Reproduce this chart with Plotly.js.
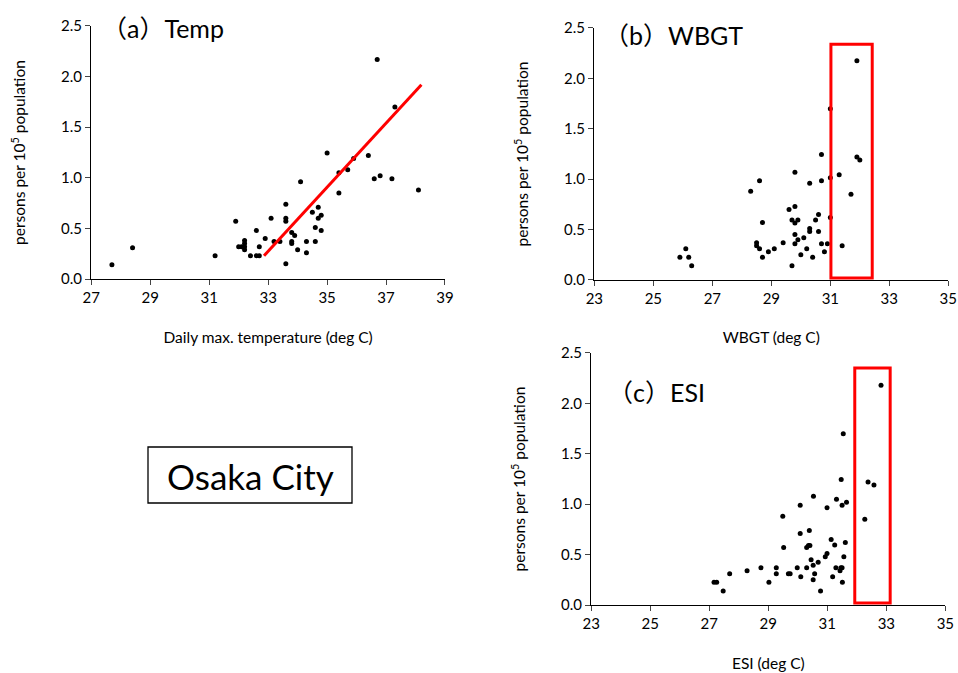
<!DOCTYPE html>
<html>
<head>
<meta charset="utf-8">
<script src="https://cdn.plot.ly/plotly-3.0.1.min.js"></script>
<style>html,body{margin:0;padding:0;background:#fff;}#chart{width:958px;height:673px;}</style>
</head>
<body>
<div id="chart"></div>
<script>
// (a) Daily max temperature vs persons per 10^5 population
const tempX = [27.7, 28.4, 31.2, 31.9, 32.0, 32.1, 32.2, 32.2, 32.2, 32.2, 32.4, 32.6, 32.6, 32.7, 32.7, 32.9, 33.1, 33.2, 33.4, 33.6, 33.6, 33.6, 33.6, 33.8, 33.9, 33.8, 33.8, 34.0, 34.1, 34.3, 34.3, 34.5, 34.6, 34.6, 34.7, 34.7, 34.8, 34.8, 35.0, 35.4, 35.4, 35.7, 35.9, 36.4, 36.6, 36.8, 37.2, 38.1, 36.7, 37.3];
const tempY = [0.14, 0.31, 0.23, 0.57, 0.32, 0.32, 0.38, 0.35, 0.32, 0.29, 0.23, 0.48, 0.23, 0.23, 0.32, 0.40, 0.60, 0.37, 0.37, 0.74, 0.60, 0.57, 0.15, 0.46, 0.43, 0.37, 0.35, 0.29, 0.96, 0.37, 0.26, 0.66, 0.51, 0.37, 0.71, 0.60, 0.63, 0.48, 1.245, 1.05, 0.85, 1.08, 1.19, 1.22, 0.99, 1.02, 0.99, 0.88, 2.17, 1.70];
const tempFitX = [32.86, 38.2];
const tempFitY = [0.23, 1.92];

// (b) WBGT
const wbgtX = [25.9, 26.1, 26.2, 26.3, 28.3, 28.5, 28.5, 28.6, 28.6, 28.7, 28.7, 28.9, 29.1, 29.4, 29.6, 29.7, 29.8, 29.9, 29.7, 29.8, 29.8, 29.8, 29.8, 29.9, 30.0, 30.1, 30.2, 30.3, 30.3, 30.3, 30.4, 30.5, 30.6, 30.6, 30.7, 30.7, 30.7, 30.8, 30.9, 31.0, 31.0, 31.3, 31.4, 31.7, 31.9, 32.0, 31.9, 31.0];
const wbgtY = [0.225, 0.31, 0.225, 0.14, 0.88, 0.37, 0.34, 0.985, 0.31, 0.57, 0.225, 0.28, 0.31, 0.37, 0.70, 0.595, 0.565, 0.595, 0.14, 1.07, 0.73, 0.45, 0.36, 0.40, 0.25, 0.42, 0.31, 0.96, 0.51, 0.48, 0.225, 0.595, 0.65, 0.48, 1.245, 0.985, 0.36, 0.28, 0.36, 1.015, 0.62, 1.045, 0.34, 0.85, 1.22, 1.19, 2.175, 1.70];
const wbgtBoxX = [31.02, 32.42];
const wbgtBoxY = [0.02, 2.34];

// (c) ESI
const esiX = [27.16, 27.25, 27.47, 27.69, 28.28, 28.75, 29.02, 29.27, 29.27, 29.49, 29.52, 29.68, 29.74, 29.98, 30.08, 30.08, 30.1, 30.30, 30.30, 30.36, 30.41, 30.39, 30.45, 30.52, 30.52, 30.53, 30.57, 30.69, 30.77, 30.93, 30.99, 30.99, 31.13, 31.18, 31.25, 31.29, 31.31, 31.43, 31.46, 31.5, 31.47, 31.5, 31.51, 31.54, 31.56, 31.61, 31.65, 32.27, 32.38, 32.58, 32.82];
const esiY = [0.225, 0.225, 0.14, 0.31, 0.34, 0.37, 0.225, 0.37, 0.31, 0.88, 0.57, 0.31, 0.31, 0.37, 0.99, 0.71, 0.28, 0.37, 0.57, 0.59, 0.59, 0.74, 0.45, 0.395, 0.25, 1.08, 0.31, 0.425, 0.14, 0.48, 0.51, 0.965, 0.65, 0.28, 0.595, 0.37, 1.05, 0.34, 0.37, 0.37, 1.245, 0.99, 0.225, 1.70, 0.48, 0.62, 1.02, 0.85, 1.22, 1.19, 2.18];
const esiBoxX = [31.93, 33.13];
const esiBoxY = [0.02, 2.35];

const yTitle = 'persons per 10<sup>5</sup> population';
const FONT = 'Lato, "Noto Sans", "Noto Sans CJK JP", sans-serif';

const marker = {color: '#000', size: 5};
const traces = [
  {x: tempX, y: tempY, type: 'scatter', mode: 'markers', marker: marker, xaxis: 'x', yaxis: 'y'},
  {x: tempFitX, y: tempFitY, type: 'scatter', mode: 'lines', line: {color: '#ff0000', width: 3}, xaxis: 'x', yaxis: 'y'},
  {x: wbgtX, y: wbgtY, type: 'scatter', mode: 'markers', marker: marker, xaxis: 'x2', yaxis: 'y2'},
  {x: esiX, y: esiY, type: 'scatter', mode: 'markers', marker: marker, xaxis: 'x3', yaxis: 'y3'}
];

function xax(range, domain, title, anchor) {
  return {
    domain: domain, range: range, dtick: 2, tick0: range[0], anchor: anchor,
    showgrid: false, zeroline: false, showline: true, linecolor: '#000', linewidth: 1.3,
    ticks: 'outside', ticklen: 5, tickcolor: '#444', tickwidth: 1,
    tickfont: {family: FONT, size: 15, color: '#000'},
    title: {text: title, font: {family: FONT, size: 15.5, color: '#000'}, standoff: 26},
    fixedrange: true
  };
}
function yax(domain, anchor) {
  return {
    domain: domain, range: [0, 2.5], dtick: 0.5, tick0: 0, tickformat: '.1f', anchor: anchor,
    showgrid: false, zeroline: false, showline: true, linecolor: '#000', linewidth: 1.3,
    ticks: 'outside', ticklen: 5, tickcolor: '#444', tickwidth: 1,
    tickfont: {family: FONT, size: 15, color: '#000'},
    title: {text: yTitle, font: {family: FONT, size: 15.5, color: '#000'}, standoff: 31},
    fixedrange: true
  };
}

const layout = {
  width: 958, height: 673,
  margin: {l: 0, r: 0, t: 0, b: 0},
  paper_bgcolor: '#fff', plot_bgcolor: '#fff',
  showlegend: false,
  font: {family: FONT, color: '#000'},
  xaxis: xax([27, 39], [0.0953, 0.4645], 'Daily max. temperature (deg C)', 'y'),
  yaxis: yax([0.5854, 0.9614], 'x'),
  xaxis2: xax([23, 35], [0.6204, 0.9899], 'WBGT (deg C)', 'y2'),
  yaxis2: yax([0.584, 0.9584], 'x2'),
  xaxis3: xax([23, 35], [0.6172, 0.9868], 'ESI (deg C)', 'y3'),
  yaxis3: yax([0.101, 0.4755], 'x3'),
  shapes: [
    {type: 'rect', xref: 'x2', yref: 'y2', x0: wbgtBoxX[0], x1: wbgtBoxX[1], y0: wbgtBoxY[0], y1: wbgtBoxY[1], line: {color: '#ff0000', width: 3}},
    {type: 'rect', xref: 'x3', yref: 'y3', x0: esiBoxX[0], x1: esiBoxX[1], y0: esiBoxY[0], y1: esiBoxY[1], line: {color: '#ff0000', width: 3}},
    {type: 'rect', xref: 'paper', yref: 'paper', x0: 148/958, x1: 352/958, y0: 1 - 503/673, y1: 1 - 447/673, line: {color: '#000', width: 1.3}}
  ],
  annotations: [
    {text: '（a）Temp', xref: 'paper', yref: 'paper', x: 100/958, y: 1 - 28/673, xanchor: 'left', yanchor: 'middle', showarrow: false, font: {family: FONT, size: 25, color: '#000'}},
    {text: '（b）WBGT', xref: 'paper', yref: 'paper', x: 602/958, y: 1 - 35/673, xanchor: 'left', yanchor: 'middle', showarrow: false, font: {family: FONT, size: 25, color: '#000'}},
    {text: '（c）ESI', xref: 'paper', yref: 'paper', x: 606/958, y: 1 - 392/673, xanchor: 'left', yanchor: 'middle', showarrow: false, font: {family: FONT, size: 25, color: '#000'}},
    {text: 'Osaka City', xref: 'paper', yref: 'paper', x: 250/958, y: 1 - 476/673, xanchor: 'center', yanchor: 'middle', showarrow: false,
     font: {family: FONT, size: 35, color: '#000'}}
  ]
};

Plotly.newPlot('chart', traces, layout, {displayModeBar: false, staticPlot: true});
</script>
</body>
</html>
